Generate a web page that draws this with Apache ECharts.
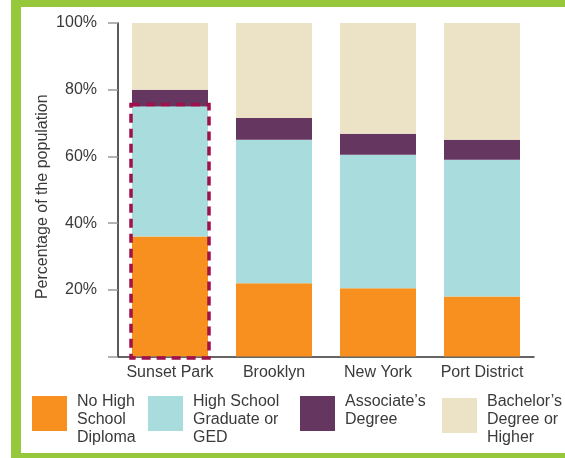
<!DOCTYPE html>
<html>
<head>
<meta charset="utf-8">
<script src="https://cdn.jsdelivr.net/npm/echarts@6/dist/echarts.min.js"></script>
<style>
  html, body { margin: 0; padding: 0; background: #ffffff; }
  #chart { width: 565px; height: 458px; }
</style>
</head>
<body>
<div id="chart"></div>
<script>
// Educational attainment by area (share of population, %)
const areas = ['Sunset Park', 'Brooklyn', 'New York', 'Port District'];
const noHighSchool = [36, 22, 20.5, 18];
const highSchoolGrad = [39, 43, 40, 41];
const associates = [5, 6.5, 6.3, 6];
const bachelorsPlus = [20, 28.5, 33.2, 35];
const yTicks = [0, 20, 40, 60, 80, 100];

const seriesNames = [
  'No High\nSchool\nDiploma',
  'High School\nGraduate or\nGED',
  'Associate\u2019s\nDegree',
  'Bachelor\u2019s\nDegree or\nHigher'
];
const seriesData = [noHighSchool, highSchoolGrad, associates, bachelorsPlus];
const colors = ['#f7901e', '#a9dcdc', '#653660', '#ece2c6'];

const FONT = '"Liberation Sans", Arial, sans-serif';
const TEXT = '#3a3a3a';

const chart = echarts.init(document.getElementById('chart'), null, { renderer: 'canvas' });

chart.setOption({
  animation: false,
  color: colors,
  grid: { left: 118, right: 31, top: 23, bottom: 101.5, containLabel: false },
  xAxis: {
    type: 'category',
    data: areas,
    axisLine: { lineStyle: { color: '#333', width: 1.5 } },
    axisTick: { show: false },
    axisLabel: { fontFamily: FONT, fontSize: 16, color: TEXT, margin: 8, interval: 0 }
  },
  yAxis: {
    type: 'value',
    min: yTicks[0],
    max: yTicks[yTicks.length - 1],
    interval: yTicks[1] - yTicks[0],
    name: 'Percentage of the population',
    nameLocation: 'middle',
    nameGap: 67,
    nameMoveOverlap: false,
    nameTextStyle: { fontFamily: FONT, fontSize: 16, color: TEXT, padding: [0, 14, 0, 0] },
    axisLine: { show: true, lineStyle: { color: '#222', width: 1.5 } },
    axisTick: { show: true, length: 10, lineStyle: { color: '#9a9a9a', width: 1.5 } },
    splitLine: { show: false },
    axisLabel: {
      fontFamily: FONT, fontSize: 16, color: TEXT, margin: 21,
      formatter: v => (v === 0 ? '' : v + '%')
    }
  },
  series: seriesNames.map((name, i) => ({
    name: name,
    type: 'bar',
    stack: 'total',
    barWidth: 76,
    data: seriesData[i],
    itemStyle: { color: colors[i] }
  }))
});

// page frame, key swatches and the highlight box around the first area's lower two segments
function drawOverlay() {
  const cx = chart.convertToPixel({ xAxisIndex: 0 }, areas[0]);
  const yTop = chart.convertToPixel({ yAxisIndex: 0 }, noHighSchool[0] + highSchoolGrad[0]);
  const yBase = chart.convertToPixel({ yAxisIndex: 0 }, 0);
  const green = '#97c83c';

  const keyLeft = [32, 148, 300, 442];
  const keyTop = [396, 396, 396, 398];
  const key = [];
  seriesNames.forEach((name, i) => {
    key.push({
      type: 'rect', silent: true,
      shape: { x: keyLeft[i], y: keyTop[i], width: 35, height: 35 },
      style: { fill: colors[i] }
    });
    key.push({
      type: 'text', silent: true,
      x: keyLeft[i] + 45, y: 393,
      style: {
        text: name, fill: TEXT, font: '16px ' + FONT,
        lineHeight: 18, verticalAlign: 'top', align: 'left'
      }
    });
  });

  chart.setOption({
    graphic: [
      { type: 'rect', silent: true, shape: { x: 11, y: 0, width: 554, height: 7 }, style: { fill: green } },
      { type: 'rect', silent: true, shape: { x: 11, y: 0, width: 10, height: 458 }, style: { fill: green } },
      { type: 'rect', silent: true, shape: { x: 11, y: 453, width: 554, height: 5 }, style: { fill: green } },
      ...key,
      {
        type: 'rect', silent: true, z: 100,
        shape: { x: cx - 39, y: yTop - 2, width: 78, height: (yBase + 1.5) - (yTop - 2) },
        style: { fill: 'none', stroke: '#a0104a', lineWidth: 3.5, lineDash: [9, 6] }
      }
    ]
  });
}
drawOverlay();
</script>
</body>
</html>
